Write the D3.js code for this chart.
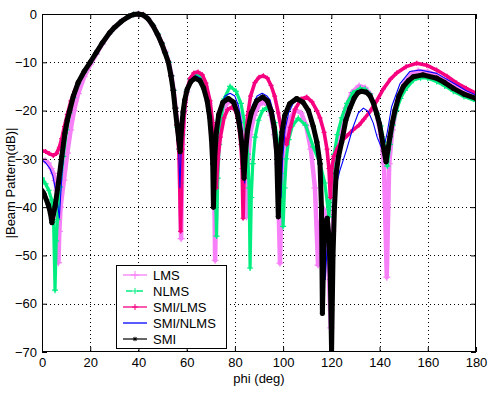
<!DOCTYPE html>
<html><head><meta charset="utf-8">
<script src="https://cdn.jsdelivr.net/npm/d3@7"></script>
<style>
body{margin:0;background:#fff}
svg{display:block}
text{font-family:"Liberation Sans",Arial,Helvetica,sans-serif;font-size:13px;fill:#000}
</style>
</head><body>
<svg id="chart" width="488" height="398"></svg>
<script>
// ---- data ----
const xTicks = [0,20,40,60,80,100,120,140,160,180];
const yTicks = [0,-10,-20,-30,-40,-50,-60,-70];
const seriesNames = ["LMS","NLMS","SMI/LMS","SMI/NLMS","SMI"];
const xLabel = "phi (deg)";
const yLabel = "|Beam Pattern(dB)|";

// [phi (deg), pattern (dB)]
const lms = [[0,-30.2],[1.3,-30.4],[2.6,-30.9],[3.8,-32],[4.7,-33],[5.5,-34.5],[6.1,-36.5],[6.5,-41],[6.8,-51.5],[7.2,-45],[7.7,-40],[9.1,-34.4],[10.5,-28.8],[11.9,-24],[13.3,-20],[15,-16.5],[17.5,-13],[20,-10.5],[22.5,-8.3],[25,-6.2],[28,-4],[30,-2.9],[33,-1.5],[36,-0.5],[38,-0.1],[40,0],[42,-0.2],[44,-1],[46,-2.4],[48,-4.2],[49.6,-5.9],[51,-7.7],[52.6,-10],[53.7,-12.8],[54.6,-15.8],[55.4,-19.5],[56.2,-23],[57,-28],[57.7,-46.5],[58.3,-27],[59,-20],[60,-16.2],[61.5,-13.5],[64,-12.3],[66,-13],[67.7,-15],[69.3,-18.5],[70.5,-23],[71.3,-29],[71.8,-51],[72.5,-30],[73.5,-23.5],[75,-19.8],[77.5,-18],[80,-18.5],[82,-21],[83.5,-26],[84.3,-32],[84.8,-42],[85.4,-31],[86.3,-25],[88,-21],[90,-18.8],[91.5,-18.2],[93.5,-18.8],[95,-21],[96.5,-25],[97.7,-31],[98.7,-51.6],[99.6,-32],[100.5,-26],[102,-22.3],[105,-19.9],[107.5,-20.5],[109.5,-23],[111.5,-28],[113.2,-36],[114.5,-52],[115.6,-43],[117,-40.5],[118.3,-45],[119.8,-65],[120.6,-45],[121.5,-34],[122.5,-28],[124,-23.5],[126,-19.5],[128.5,-16.3],[131.5,-14.9],[134,-15.3],[136,-16.5],[138.5,-20],[140.5,-25],[141.8,-31],[143,-54.5],[144,-31],[145.3,-24],[147.5,-18],[150.5,-14.2],[153.5,-12.3],[156,-11.8],[160,-12],[164,-12.8],[170.6,-14.8],[175,-15.8],[180,-16.6]];

const nlms = [[0,-34],[1.5,-35.2],[2.8,-36.5],[4,-38.5],[4.8,-43],[5.4,-57.2],[5.9,-47],[6.4,-42.6],[7.5,-35.8],[8.8,-29.5],[10.2,-24],[11.5,-20.5],[13,-17.3],[15,-14.4],[17.5,-12],[20,-10.1],[22.5,-8.1],[25,-6.1],[28,-4],[30,-2.9],[33,-1.5],[36,-0.5],[38,-0.1],[40,0],[42,-0.2],[44,-1],[46,-2.3],[48,-4.1],[49.8,-6.1],[51.2,-8],[52.6,-10],[53.7,-12.8],[54.6,-15.8],[55.4,-19.5],[56.2,-23.5],[56.9,-28],[57.6,-35],[58.3,-25],[59,-19.5],[60,-16],[61.5,-13.5],[63.5,-12.4],[65.5,-12.9],[67.3,-14.6],[69,-17.8],[70.3,-22],[71.3,-28],[71.9,-36],[72.4,-46],[72.9,-34],[73.5,-27],[74.3,-21.5],[75.5,-17.6],[78,-15],[80.5,-16],[82.5,-18.5],[84,-22.5],[85.3,-29],[85.9,-36],[86.3,-52.6],[86.8,-38],[87.4,-31],[88.4,-25.5],[89.8,-22],[91.5,-20],[93.2,-19.4],[95,-20.2],[96.5,-22.5],[97.8,-26.5],[99,-33],[99.6,-38],[100,-44],[100.6,-36],[101.3,-30],[102.3,-26],[103.8,-23.2],[106.3,-21.6],[109.3,-23],[112.5,-27.5],[115.3,-31],[117.3,-35],[119,-42],[120,-35],[121.2,-29],[122.5,-25],[124.3,-21.5],[126.5,-18.5],[129,-16.3],[132,-15.4],[134,-15.6],[136,-16.6],[137.5,-18.2],[139,-20.5],[140.5,-23.2],[141.8,-26.5],[143.2,-31.5],[144.3,-27],[145.5,-23],[147,-20],[148.7,-17.5],[150.5,-15.8],[154,-13.7],[157,-13.2],[160,-13.3],[163.7,-14],[167,-14.9],[170.6,-16],[175,-17.1],[180,-18]];

const smiLms = [[0,-28.3],[1.5,-28.5],[3,-28.9],[4.7,-29.3],[6,-28.9],[7.2,-27.6],[8.2,-25.8],[9.3,-23.3],[10.5,-20.8],[12,-18],[13.5,-16],[15,-14.2],[17.5,-11.9],[20,-10],[22.5,-8],[25,-6],[28,-3.9],[30,-2.8],[33,-1.5],[36,-0.5],[38,-0.1],[40,0],[42,-0.2],[44,-1],[46,-2.4],[48,-4.3],[49.6,-6.1],[51,-8],[52.4,-10],[53.5,-12.8],[54.5,-15.8],[55.4,-19.5],[56.2,-24],[56.9,-30],[57.5,-45],[58.2,-28],[59,-20.5],[60,-16.2],[61.5,-13.3],[63,-12.2],[64.7,-12],[66.5,-12.6],[68,-14.3],[69.7,-18],[70.8,-22.5],[71.6,-28],[72.3,-36],[73,-30],[74,-25.5],[75.5,-21.5],[77,-19.8],[78.7,-19.3],[80.3,-20],[81.5,-22.5],[82.5,-27],[83,-32],[83.4,-42.3],[83.8,-33],[84.3,-27],[85.3,-21],[86.5,-17],[88.3,-14.2],[90,-13.1],[91.8,-12.8],[93.5,-13.3],[95,-14.8],[96.5,-17],[98,-20.5],[99.5,-24.5],[101.5,-27],[103,-23.5],[105,-19.7],[107.5,-17.6],[109.8,-17.2],[112,-18.2],[114,-20],[115.3,-21.5],[117,-24.5],[118.2,-28],[119,-32],[119.6,-38],[120.2,-32],[121,-29.5],[122.5,-27.8],[124.3,-26.3],[126.5,-25.2],[129,-24],[131.5,-23],[133.5,-21.8],[136,-20.2],[138.8,-18],[141.6,-15.5],[144.5,-13.5],[147.1,-12.2],[151,-10.9],[155.4,-10.2],[159.5,-10.6],[163.7,-11.6],[168,-12.9],[172,-14.3],[176,-15.4],[180,-16.4]];

const smiNlms = [[0,-30.2],[1.5,-30.8],[3.3,-32],[4.5,-33.5],[5.4,-35.8],[6.3,-38.5],[7.2,-42.3],[7.8,-37],[8.3,-33],[9.5,-26.5],[10.5,-23],[12,-19.5],[13.5,-16.5],[15,-14.3],[17.5,-12],[20,-10.1],[22.5,-8],[25,-6],[28,-3.9],[30,-2.8],[33,-1.5],[36,-0.5],[38,-0.1],[40,0],[42,-0.2],[44,-1],[46,-2.4],[48,-4.3],[49.7,-6.1],[51.1,-8],[52.5,-10],[53.6,-12.8],[54.5,-15.8],[55.3,-19.5],[56,-23.5],[56.7,-28.5],[57.2,-36],[57.8,-27],[58.5,-21],[59.3,-17.5],[60.5,-15],[62,-13.4],[63.8,-12.8],[65.7,-13.3],[67.3,-15],[68.8,-18],[70,-22],[71,-28],[71.5,-36],[72.2,-27],[73,-22],[74.3,-18.8],[76,-17],[78,-16.4],[80,-17],[81.5,-19],[82.7,-22.5],[83.6,-28],[84.1,-35],[84.7,-28],[85.7,-22.5],[87.2,-19],[89.2,-17],[91.3,-16.4],[93.3,-17],[94.6,-17.8],[96,-20.5],[97.3,-25],[98.4,-31],[99.1,-38],[99.8,-30],[100.8,-24],[102.3,-20.5],[104.2,-18.5],[106.3,-17.8],[108.5,-18.5],[110.5,-20.5],[112.5,-24],[114.2,-29],[115.5,-35],[116.6,-44],[117.5,-55],[118.4,-47],[119.5,-46],[120.5,-49],[121.3,-46],[121.8,-38],[122.5,-34.5],[123.6,-32.3],[126.4,-28],[129.1,-23.3],[131.2,-20.5],[133.3,-19.5],[135.3,-20.2],[137.4,-22.6],[139,-25.5],[140.9,-27.8],[142.3,-26.5],[143.2,-24.5],[145,-19.2],[148.5,-14.4],[152.6,-11.9],[156.8,-11.6],[163.7,-12.3],[172,-14.7],[176,-15.9],[180,-16.8]];

const smi = [[0,-36.6],[0.8,-37.2],[2.6,-39.5],[3.5,-41.3],[4.1,-43.2],[4.7,-41.5],[5.4,-39.9],[6.8,-35],[8.2,-29.5],[9.5,-24.7],[10.5,-22],[11.5,-20],[13,-17],[15,-14.2],[17.5,-11.9],[20,-10],[22.5,-8],[25,-6],[28,-3.9],[30,-2.8],[33,-1.5],[36,-0.5],[38,-0.1],[40,0],[42,-0.2],[44,-1],[46,-2.4],[48,-4.3],[49.6,-6.1],[51,-8],[52.4,-10],[53.5,-12.8],[54.4,-15.8],[55.2,-19.5],[56,-23],[56.7,-26],[57.3,-28.5],[57.9,-23.5],[58.5,-20.3],[59.2,-17.8],[60.2,-15.6],[61.7,-14],[63.5,-13.3],[65.5,-13.8],[67,-15.3],[68.5,-18],[69.5,-21.3],[70.3,-26],[70.8,-31],[71.1,-40],[71.6,-30],[72.3,-24.5],[73.3,-20.8],[75,-18.3],[77.3,-17.5],[79.5,-18.3],[81,-20.5],[82.3,-24.3],[83.2,-28.5],[83.8,-34],[84.4,-28.5],[85.3,-24],[86.8,-20.5],[89,-18],[91.5,-17.2],[93.5,-18],[95,-20],[96.3,-23.5],[97.3,-28.5],[98,-42],[98.7,-30],[99.5,-24.5],[100.7,-21],[102.7,-18.6],[105.6,-17.5],[108.3,-18.3],[110.5,-20],[112.5,-23.3],[114,-26.5],[115.3,-31],[115.9,-40],[116.3,-62],[116.9,-48],[117.6,-43],[118.3,-42.3],[119,-46],[119.6,-55],[120.1,-70],[120.7,-50],[121.3,-40],[122,-33],[123,-29.5],[124.3,-26.5],[126,-22],[127.7,-19.5],[129.5,-17.4],[131,-16.3],[132.5,-16],[134.5,-16.2],[136,-16.9],[137.5,-18.5],[138.8,-20.6],[140,-22.8],[140.9,-25.4],[141.9,-28.5],[142.7,-30.6],[143.5,-28],[144.3,-25.4],[145.3,-22.5],[146.4,-19.9],[148,-17],[149.9,-15],[152,-13.8],[154,-13],[158,-12.6],[163.7,-13.3],[167,-14.2],[170.6,-15.4],[175,-16.6],[180,-17.5]];

// ---- drawing ----
const svg = d3.select("#chart");
const W = 488, H = 398;
const x = d3.scaleLinear().domain([0,180]).range([42,476]);
const y = d3.scaleLinear().domain([-70,0]).range([352,14]);

svg.append("rect").attr("width",W).attr("height",H).attr("fill","#fff");

// grid
const grid = svg.append("g").attr("stroke","#000").attr("stroke-width",1).attr("stroke-dasharray","1,3");
grid.selectAll("line.gx").data(xTicks.slice(1,-1)).enter().append("line")
  .attr("x1",d=>Math.round(x(d))+0.5).attr("x2",d=>Math.round(x(d))+0.5)
  .attr("y1",y(0)).attr("y2",y(-70));
grid.selectAll("line.gy").data(yTicks.slice(1,-1)).enter().append("line")
  .attr("y1",d=>Math.round(y(d))+0.5).attr("y2",d=>Math.round(y(d))+0.5)
  .attr("x1",x(0)).attr("x2",x(180));

// curves
svg.append("clipPath").attr("id","clip").append("rect")
  .attr("x",x(0)).attr("y",y(0)-4).attr("width",x(180)-x(0)).attr("height",y(-70)-y(0)+4);

const styles = [
  {data:lms,     color:"#f77ff7", w:4.5, marker:"plus", ms:3.5, mw:1.2},
  {data:nlms,    color:"#00ee80", w:3.2, marker:"plus", ms:3,   mw:1.2},
  {data:smiLms,  color:"#f70080", w:3.6, marker:"plus", ms:2.5, mw:1.2},
  {data:smiNlms, color:"#0000ff", w:1.1, marker:null},
  {data:smi,     color:"#000000", w:5,   marker:"star", ms:2.6, mw:1.4}
];
const line = d3.line().x(d=>x(d[0])).y(d=>y(d[1]));
const markerPath = (t,s) => t==="plus" ? `M${-s},0H${s}M0,${-s}V${s}` :
  `M${-s},0H${s}M0,${-s}V${s}M${-s*0.7},${-s*0.7}L${s*0.7},${s*0.7}M${-s*0.7},${s*0.7}L${s*0.7},${-s*0.7}`;

const plot = svg.append("g").attr("clip-path","url(#clip)");
styles.forEach(st=>{
  const g = plot.append("g");
  g.append("path").datum(st.data).attr("d",line).attr("fill","none")
    .attr("stroke",st.color).attr("stroke-width",st.w)
    .attr("stroke-linejoin","round").attr("stroke-linecap","round");
  if(st.marker){
    g.selectAll("path.m").data(st.data).enter().append("path").attr("class","m")
      .attr("transform",d=>`translate(${x(d[0])},${y(d[1])})`)
      .attr("d",markerPath(st.marker,st.ms)).attr("stroke",st.color)
      .attr("stroke-width",st.mw).attr("fill","none");
  }
});

// axes box + ticks
svg.append("rect").attr("x",x(0)+0.5).attr("y",y(0)+0.5)
  .attr("width",x(180)-x(0)-1).attr("height",y(-70)-y(0)-1)
  .attr("fill","none").attr("stroke","#000");

const ax = (g)=>{g.select(".domain").remove(); g.selectAll("line").attr("stroke","#000");
  g.selectAll("text").style("font-family",'"Liberation Sans",Arial,sans-serif').style("font-size","13px").attr("fill","#000");};
svg.append("g").attr("transform",`translate(0,${y(-70)})`)
  .call(d3.axisBottom(x).tickValues(xTicks).tickSize(-5).tickPadding(6).tickFormat(d3.format("d"))).call(ax);
svg.append("g").attr("transform",`translate(0,${y(0)})`)
  .call(d3.axisTop(x).tickValues(xTicks).tickSize(-5).tickFormat("")).call(ax);
svg.append("g").attr("transform",`translate(${x(0)},0)`)
  .call(d3.axisLeft(y).tickValues(yTicks).tickSize(-5).tickPadding(5).tickFormat(d3.format("d"))).call(ax);
svg.append("g").attr("transform",`translate(${x(180)},0)`)
  .call(d3.axisRight(y).tickValues(yTicks).tickSize(-5).tickFormat("")).call(ax);

// axis labels
svg.append("text").attr("x",(x(0)+x(180))/2).attr("y",383).attr("text-anchor","middle").text(xLabel);
svg.append("text").attr("transform",`translate(15,${(y(0)+y(-70))/2}) rotate(-90)`)
  .attr("text-anchor","middle").text(yLabel);

// legend
const lg = svg.append("g");
lg.append("rect").attr("x",116.5).attr("y",265.5).attr("width",110).attr("height",83)
  .attr("fill","#fff").attr("stroke","#000");
const rowY = [275,291,307,323,339];
seriesNames.forEach((name,i)=>{
  const st = styles[i];
  const yy = rowY[i];
  lg.append("line").attr("x1",123).attr("x2",147).attr("y1",yy).attr("y2",yy)
    .attr("stroke",st.color).attr("stroke-width",i===4?1.2:1.3)
    .attr("stroke-dasharray",i===1?"6,5":null).attr("stroke-dashoffset",i===1?"-3":null);
  if(st.marker){
    lg.append("path").attr("transform",`translate(135,${yy})`)
      .attr("d",markerPath(st.marker,i===0?4:(i===4?2.2:3))).attr("stroke",st.color)
      .attr("stroke-width",1).attr("fill","none");
  }
  lg.append("text").attr("x",153).attr("y",yy).attr("dy","0.35em").text(name);
});
</script>
</body></html>
